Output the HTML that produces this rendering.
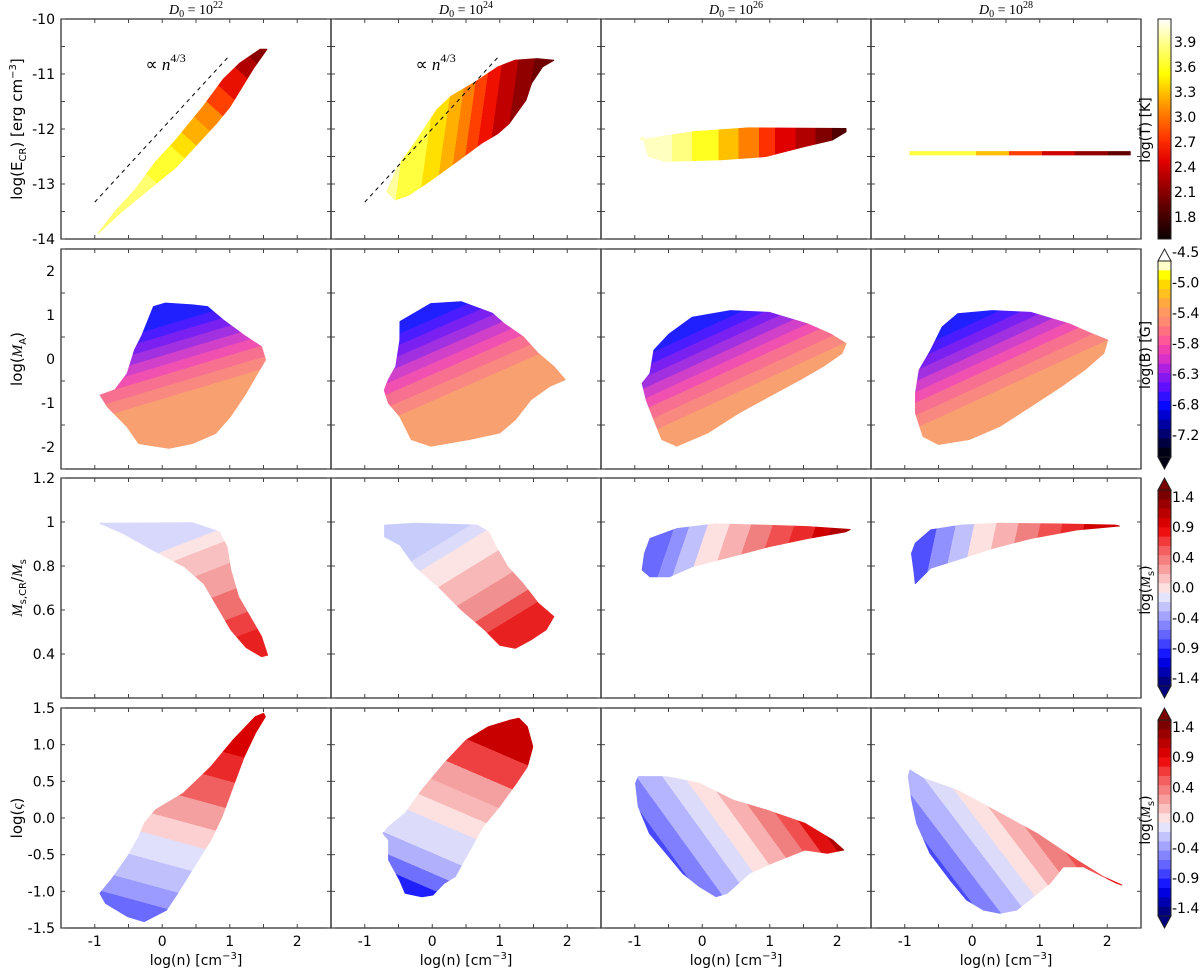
<!DOCTYPE html>
<html><head><meta charset="utf-8">
<style>
html,body{margin:0;padding:0;background:#fff;}
svg{display:block;font-family:"DejaVu Sans","Liberation Sans",sans-serif;}
</style></head>
<body>
<svg id="chart" width="1200" height="969" viewBox="0 0 1200 969" xmlns="http://www.w3.org/2000/svg">
<defs id="defs"></defs>
</svg>
<script>
// ---------- data (log n, y) outlines of each scatter cloud ----------
const outlineR1C1=[[-0.95,-13.9],[-0.6,-13.5],[-0.2,-13.1],[0.2,-12.7],[0.5,-12.3],[0.8,-11.9],[1.0,-11.6],[1.2,-11.2],[1.35,-10.9],[1.55,-10.55],[1.45,-10.55],[1.15,-10.8],[0.9,-11.1],[0.6,-11.6],[0.2,-12.2],[-0.1,-12.6],[-0.4,-13.1],[-0.7,-13.5]];
const outlineR1C2=[[-0.675,-13.14],[-0.51,-12.68],[-0.262,-12.26],[0.068,-11.65],[0.274,-11.41],[0.48,-11.26],[0.645,-11.14],[0.975,-10.87],[1.223,-10.75],[1.553,-10.72],[1.8,-10.75],[1.635,-10.87],[1.47,-11.17],[1.39,-11.47],[1.14,-11.9],[0.975,-12.08],[0.728,-12.26],[0.398,-12.56],[-0.015,-12.93],[-0.345,-13.2],[-0.551,-13.29]];
const outlineR1C3=[[-0.92,-12.2],[-0.136,-12.05],[0.69,-11.98],[2.13,-11.99],[2.13,-12.05],[1.93,-12.2],[1.51,-12.32],[0.94,-12.5],[0.28,-12.56],[-0.55,-12.59],[-0.8,-12.5],[-0.88,-12.14]];
const outlineR1C4=[[-0.92,-12.41],[2.34,-12.41],[2.34,-12.47],[-0.92,-12.47]];
const outlineR2C1=[[-0.13,1.19],[0.046,1.27],[0.445,1.23],[0.67,1.19],[0.9,0.89],[1.24,0.51],[1.47,0.28],[1.53,-0.02],[1.41,-0.33],[1.24,-0.78],[1.01,-1.31],[0.79,-1.69],[0.445,-1.92],[0.1,-2.03],[-0.35,-1.92],[-0.52,-1.54],[-0.81,-1.09],[-0.92,-0.82],[-0.7,-0.7],[-0.52,-0.33],[-0.41,0.21],[-0.3,0.54]];
const outlineR2C2=[[-0.478,0.85],[-0.02,1.26],[0.433,1.3],[0.89,1.04],[1.06,0.81],[1.345,0.51],[1.57,0.13],[1.8,-0.17],[1.97,-0.47],[1.74,-0.62],[1.46,-0.93],[1.23,-1.38],[1.0,-1.68],[0.55,-1.83],[-0.02,-1.98],[-0.31,-1.83],[-0.48,-1.31],[-0.65,-1.0],[-0.71,-0.71],[-0.65,-0.47],[-0.54,-0.17],[-0.48,0.43]];
const outlineR2C3=[[-0.774,-0.33],[-0.717,0.2],[-0.49,0.57],[-0.147,0.95],[0.42,1.1],[0.99,1.06],[1.56,0.8],[1.9,0.57],[2.13,0.35],[2.07,0.13],[1.79,-0.17],[1.45,-0.47],[0.99,-0.85],[0.54,-1.23],[0.08,-1.68],[-0.375,-1.98],[-0.6,-1.83],[-0.717,-1.38],[-0.83,-0.93],[-0.89,-0.55]];
const outlineR2C4=[[-0.786,-0.25],[-0.615,0.2],[-0.445,0.73],[-0.216,1.03],[0.297,1.1],[0.866,1.06],[1.436,0.8],[1.778,0.57],[2.006,0.43],[1.949,0.13],[1.664,-0.25],[1.322,-0.62],[0.866,-1.08],[0.41,-1.53],[-0.046,-1.83],[-0.5,-1.94],[-0.73,-1.76],[-0.84,-1.23],[-0.84,-0.78]];
const outlineR3C1=[[-0.923,0.994],[0.445,0.997],[0.844,0.956],[0.958,0.888],[1.015,0.782],[1.13,0.66],[1.3,0.57],[1.47,0.479],[1.56,0.395],[1.47,0.388],[1.24,0.43],[1.015,0.51],[0.787,0.63],[0.616,0.72],[0.33,0.797],[-0.125,0.87],[-0.58,0.948]];
const outlineR3C2=[[-0.706,0.986],[-0.25,0.994],[0.661,0.986],[0.832,0.956],[0.946,0.888],[1.117,0.797],[1.345,0.72],[1.573,0.63],[1.8,0.57],[1.687,0.51],[1.46,0.464],[1.23,0.426],[1.0,0.44],[0.775,0.51],[0.433,0.6],[0.09,0.706],[-0.25,0.797],[-0.478,0.895],[-0.706,0.933]];
const outlineR3C3=[[-0.774,0.925],[-0.375,0.97],[0.193,0.991],[0.876,0.986],[1.56,0.979],[2.19,0.966],[2.13,0.956],[1.56,0.925],[0.99,0.888],[0.42,0.842],[-0.147,0.797],[-0.49,0.751],[-0.774,0.751],[-0.89,0.782],[-0.855,0.857]];
const outlineR3C4=[[-0.843,0.903],[-0.615,0.964],[-0.16,0.986],[0.41,0.994],[1.32,0.991],[2.12,0.986],[2.18,0.982],[1.55,0.964],[0.866,0.925],[0.297,0.88],[-0.16,0.834],[-0.615,0.79],[-0.843,0.72],[-0.866,0.782],[-0.9,0.857]];
const outlineR4C1=[[1.502,1.427],[1.527,1.382],[1.379,1.155],[1.214,0.837],[1.05,0.428],[0.885,0.018],[0.721,-0.3],[0.474,-0.663],[0.228,-1.027],[0.063,-1.254],[-0.266,-1.413],[-0.513,-1.345],[-0.841,-1.163],[-0.924,-1.027],[-0.759,-0.845],[-0.513,-0.527],[-0.348,-0.254],[-0.266,-0.072],[-0.101,0.11],[0.31,0.337],[0.721,0.7],[1.05,1.064],[1.379,1.382]];
const outlineR4C2=[[-0.647,-0.3],[-0.73,-0.209],[-0.647,-0.118],[-0.401,0.064],[-0.154,0.382],[0.175,0.745],[0.504,1.064],[0.833,1.245],[1.162,1.336],[1.285,1.36],[1.408,1.245],[1.49,0.973],[1.408,0.7],[1.244,0.473],[0.997,0.155],[0.75,-0.118],[0.586,-0.391],[0.422,-0.663],[0.339,-0.8],[0.175,-0.891],[0.01,-1.05],[-0.154,-1.073],[-0.401,-1.027],[-0.483,-0.845],[-0.647,-0.573]];
const outlineR4C3=[[-0.947,0.564],[-0.536,0.564],[-0.042,0.473],[0.451,0.245],[0.945,0.11],[1.52,-0.072],[1.931,-0.3],[2.096,-0.436],[1.85,-0.482],[1.52,-0.436],[1.273,-0.527],[1.027,-0.618],[0.698,-0.754],[0.369,-1.027],[0.205,-1.073],[-0.042,-0.936],[-0.289,-0.754],[-0.536,-0.482],[-0.783,-0.209],[-0.947,0.155],[-0.988,0.473]];
const outlineR4C4=[[-0.922,0.655],[-0.725,0.541],[-0.23,0.382],[0.411,0.064],[0.955,-0.209],[1.547,-0.573],[1.942,-0.8],[2.214,-0.914],[2.14,-0.891],[1.645,-0.664],[1.349,-0.664],[1.152,-0.891],[0.904,-1.073],[0.659,-1.254],[0.411,-1.3],[0.164,-1.254],[-0.082,-1.118],[-0.33,-0.845],[-0.626,-0.482],[-0.823,-0.073],[-0.897,0.245],[-0.947,0.563]];
// colour-gradient axes (data coords: start, end)
const gradAxis=[
 [[[-0.9,-13.9],[1.55,-10.55]],[[-0.7,-11.6],[1.6,-12.0]],[[-0.9,-12.3],[2.1,-12.3]],[[-0.92,-12.44],[2.34,-12.44]]],
 [[[0.3,1.15],[0.7,-0.9]],[[0.0,1.2],[0.6,-0.9]],[[0.2,1.1],[0.8,-0.9]],[[0.0,1.1],[0.6,-0.9]]],
 [[[0.7,1.0],[1.4,0.45]],[[0.2,1.0],[1.2,0.5]],[[-0.6,1.0],[1.8,0.75]],[[-0.8,0.97],[1.8,0.8]]],
 [[[0.7,1.3],[-0.1,-1.4]],[[1.0,1.3],[-0.1,-1.05]],[[-0.7,-0.6],[1.4,0.8]],[[-0.7,-0.7],[1.3,0.7]]]
];
// dashed n^{4/3} guide lines
const guideX=[-1.0,0.97];
const guideY=[-13.33,-10.7];
// tick labels
const xTickVals=[-1,0,1,2];
const yTickVals=[[-10,-11,-12,-13,-14],[2,1,0,-1,-2],[1.2,1.0,0.8,0.6,0.4],[1.5,1.0,0.5,0.0,-0.5,-1.0,-1.5]];
const yTickText=[["-10","-11","-12","-13","-14"],["2","1","0","-1","-2"],["1.2","1","0.8","0.6","0.4"],["1.5","1.0","0.5","0.0","-0.5","-1.0","-1.5"]];
const titlesExp=["22","24","26","28"];
const cbLabelsT=["3.9","3.6","3.3","3.0","2.7","2.4","2.1","1.8"];
const cbLabelsB=["-4.5","-5.0","-5.4","-5.8","-6.3","-6.8","-7.2"];
const cbLabelsM=["1.4","0.9","0.4","0.0","-0.4","-0.9","-1.4"];

// ---------- styling ----------
const stopsSet=[
 [[[0,'#ffff70'],[0.3,'#ffff30'],[0.45,'#ffe000'],[0.52,'#ffb000'],[0.6,'#ff8a00'],[0.68,'#ff4000'],[0.76,'#e81000'],[0.86,'#b00000'],[0.93,'#8a0000']],
  [[0,'#ffffa0'],[0.15,'#ffff40'],[0.3,'#ffe000'],[0.4,'#ffb000'],[0.48,'#ff8000'],[0.55,'#ff4000'],[0.62,'#f01000'],[0.7,'#c00000'],[0.8,'#900000'],[0.9,'#700000']],
  [[0,'#ffffc0'],[0.15,'#ffff80'],[0.25,'#ffff20'],[0.38,'#ffc000'],[0.48,'#ff8000'],[0.58,'#ff3000'],[0.66,'#e00000'],[0.76,'#b00000'],[0.86,'#800000'],[0.94,'#500000']],
  [[0,'#ffff40'],[0.3,'#ffc000'],[0.45,'#ff4000'],[0.6,'#d00000'],[0.75,'#900000'],[0.9,'#600000']]],
 null,null,null
];
const stopsB=[[0,'#2020ff'],[0.12,'#4a1cff'],[0.22,'#7a20f0'],[0.32,'#a030e0'],[0.42,'#d040c8'],[0.52,'#f050b0'],[0.62,'#f87090'],[0.74,'#f88880'],[0.86,'#f8a070']];
stopsSet[1]=[stopsB,stopsB,stopsB,stopsB];
stopsSet[2]=[
 [[0,'#d8d8fc'],[0.08,'#fde4e4'],[0.18,'#f8c0c0'],[0.35,'#f4a0a0'],[0.55,'#f07070'],[0.75,'#ee4040'],[0.9,'#e82020']],
 [[0,'#c8ccfa'],[0.12,'#dcdcfa'],[0.22,'#fde4e4'],[0.4,'#f8b8b8'],[0.6,'#f09090'],[0.78,'#ee5050'],[0.9,'#e82020']],
 [[0,'#6a6aff'],[0.08,'#9090ff'],[0.16,'#c0c0fc'],[0.26,'#fde0e0'],[0.38,'#f8b0b0'],[0.5,'#f08080'],[0.62,'#f05050'],[0.74,'#ea2a2a'],[0.86,'#d00000'],[0.95,'#b00000']],
 [[0,'#5050ff'],[0.1,'#9090ff'],[0.2,'#c0c0fc'],[0.3,'#fde0e0'],[0.42,'#f8b0b0'],[0.54,'#f08080'],[0.66,'#f05050'],[0.78,'#ea2a2a'],[0.9,'#d00000']]
];
stopsSet[3]=[
 [[0,'#d80000'],[0.12,'#ea2a2a'],[0.25,'#f06060'],[0.38,'#f4a0a0'],[0.5,'#fcd0d0'],[0.6,'#e0e0fc'],[0.72,'#c0c0fc'],[0.84,'#9a9aff'],[0.93,'#6a6aff']],
 [[0,'#c80000'],[0.15,'#ee4040'],[0.3,'#f4a0a0'],[0.42,'#f8b8b8'],[0.52,'#fde0e0'],[0.62,'#dcdcfa'],[0.78,'#b0b0fc'],[0.88,'#7070ff'],[0.96,'#2020ff']],
 [[0,'#4848ff'],[0.1,'#8080ff'],[0.2,'#b4b4ff'],[0.32,'#dcdcfa'],[0.42,'#fde0e0'],[0.52,'#f8b0b0'],[0.62,'#f08080'],[0.72,'#f05050'],[0.8,'#e01010'],[0.88,'#b00000']],
 [[0,'#4848ff'],[0.1,'#8080ff'],[0.2,'#b4b4ff'],[0.32,'#dcdcfa'],[0.42,'#fde0e0'],[0.52,'#f8b0b0'],[0.62,'#f08080'],[0.72,'#f05050'],[0.82,'#e81010'],[0.92,'#c00000']]
];
const cbColorsB=['#ffffc8','#ffff00','#ffd800','#ffc020','#ffa840','#ff9860','#ff8870','#ff7080','#ff5898','#f040b0','#d830c8','#b020e0','#8818f0','#6010ff','#3010ff','#0808ff','#0000d0','#0000a0','#000070','#000040','#000014'];
const cbColorsM=['#7a0000','#9a0000','#bb0000','#d80000','#ee1010','#f23a3a','#f46060','#f68080','#f8a0a0','#fbc0c0','#fde0e0','#e4e4fc','#c4c4fc','#a4a4ff','#8484ff','#6464ff','#4040ff','#1818ff','#0000e0','#0000b0','#000080'];

const NS='http://www.w3.org/2000/svg';
const svg=document.getElementById('chart');
const defs=document.getElementById('defs');
const colL=61,colW=270,rowH=220;
const rowTop=[19,249,478,708];
const xMin=-1.5,xMax=2.5;
const yRange=[[-14,-10],[-2.5,2.5],[0.2,1.2],[-1.5,1.5]];
function X(c,v){return colL+colW*c+(v-xMin)/(xMax-xMin)*colW;}
function Y(r,v){const a=yRange[r][0],b=yRange[r][1];return rowTop[r]+rowH-(v-a)/(b-a)*rowH;}
function el(tag,attrs,parent){const e=document.createElementNS(NS,tag);for(const k in attrs)e.setAttribute(k,attrs[k]);(parent||svg).appendChild(e);return e;}

const outlines=[[outlineR1C1,outlineR1C2,outlineR1C3,outlineR1C4],[outlineR2C1,outlineR2C2,outlineR2C3,outlineR2C4],[outlineR3C1,outlineR3C2,outlineR3C3,outlineR3C4],[outlineR4C1,outlineR4C2,outlineR4C3,outlineR4C4]];
const rowNames=['ecr','mach-alfven','mach-ratio','zeta'];

for(let r=0;r<4;r++){
 for(let c=0;c<4;c++){
  const g=el('g',{});
  
  
  const ax=gradAxis[r][c];
  const gid='g'+r+c;
  const lg=el('linearGradient',{id:gid,gradientUnits:'userSpaceOnUse',x1:X(c,ax[0][0]),y1:Y(r,ax[0][1]),x2:X(c,ax[1][0]),y2:Y(r,ax[1][1])},defs);
  const st=stopsSet[r][c];
  for(let i=0;i<st.length;i++){
   const end=i<st.length-1?st[i+1][0]:1;
   el('stop',{offset:st[i][0],'stop-color':st[i][1]},lg);
   el('stop',{offset:end,'stop-color':st[i][1]},lg);
  }
  const pts=outlines[r][c].map(p=>X(c,p[0]).toFixed(1)+','+Y(r,p[1]).toFixed(1)).join(' ');
  const poly=el('polygon',{points:pts,fill:'url(#'+gid+')',stroke:'url(#'+gid+')','stroke-width':'1','stroke-linejoin':'round'},g);
  
  
  const fr=el('rect',{x:X(c,xMin),y:rowTop[r],width:colW,height:rowH,fill:'none',stroke:'#222','stroke-width':'1.2'},g);
  
  
  for(let v=-1;v<=2.01;v+=0.5){
   const x=X(c,v);
   el('line',{x1:x,x2:x,y1:rowTop[r],y2:rowTop[r]+4,stroke:'#444','stroke-width':'1'},g);
   el('line',{x1:x,x2:x,y1:rowTop[r]+rowH,y2:rowTop[r]+rowH-4,stroke:'#444','stroke-width':'1'},g);
  }
  const tv=yTickVals[r];
  const step=Math.abs(tv[1]-tv[0])/(r==0?2:1);
  for(let v=yRange[r][0];v<=yRange[r][1]+1e-6;v+=step){
   const y=Y(r,v);
   el('line',{x1:X(c,xMin),x2:X(c,xMin)+4,y1:y,y2:y,stroke:'#444','stroke-width':'1'},g);
   el('line',{x1:X(c,xMax),x2:X(c,xMax)-4,y1:y,y2:y,stroke:'#444','stroke-width':'1'},g);
  }
  if(r==3){
   for(let i=0;i<xTickVals.length;i++){
    const t=el('text',{x:X(c,xTickVals[i]),y:946,'text-anchor':'middle','font-size':'14',fill:'#000'},g);
    t.textContent=String(xTickVals[i]);
    
    
   }
   const xl=el('text',{x:X(c,0.5),y:965,'text-anchor':'middle','font-size':'14',fill:'#000'},g);
   xl.innerHTML='log(n) [cm<tspan dy="-6" font-size="10">−3</tspan><tspan dy="6">]</tspan>';
   
   
  }
  if(c==0){
   for(let i=0;i<tv.length;i++){
    const t=el('text',{x:55,y:Y(r,tv[i])+5,'text-anchor':'end','font-size':'14',fill:'#000'},g);
    t.textContent=yTickText[r][i];
    
    
   }
  }
  if(r==0){
   const tt=el('text',{x:X(c,0.5),y:14,'text-anchor':'middle','font-size':'14','font-family':'"Liberation Serif",serif',fill:'#000'},g);
   tt.innerHTML='<tspan font-style="italic">D</tspan><tspan dy="3" font-size="10">0</tspan><tspan dy="-3"> = 10</tspan><tspan dy="-6" font-size="10">'+titlesExp[c]+'</tspan>';
   
   
  }
 }
}
for(let c=0;c<2;c++){
 const l=el('line',{x1:X(c,guideX[0]),y1:Y(0,guideY[0]),x2:X(c,guideX[1]),y2:Y(0,guideY[1]),stroke:'#000','stroke-width':'1','stroke-dasharray':'4,4'});
 
 
 const t=el('text',{x:X(c,0.05),y:Y(0,-10.93),'text-anchor':'middle','font-size':'17','font-family':'"Liberation Serif",serif',fill:'#000'});
 t.innerHTML='∝ <tspan font-style="italic">n</tspan><tspan dy="-8" font-size="12">4/3</tspan>';
 
 
}
const yTitles=['log(E<tspan dy="4" font-size="10">CR</tspan><tspan dy="-4">) [erg cm</tspan><tspan dy="-6" font-size="10">−3</tspan><tspan dy="6">]</tspan>',
 'log(<tspan font-family="Liberation Serif,serif" font-style="italic">M</tspan><tspan dy="4" font-size="10">A</tspan><tspan dy="-4">)</tspan>',
 '<tspan font-family="Liberation Serif,serif" font-style="italic">M</tspan><tspan dy="4" font-size="10">s,CR</tspan><tspan dy="-4">/</tspan><tspan font-family="Liberation Serif,serif" font-style="italic">M</tspan><tspan dy="4" font-size="10">s</tspan>',
 'log(<tspan font-family="Liberation Serif,serif" font-style="italic">ς</tspan>)'];
for(let r=0;r<4;r++){
 const cy=rowTop[r]+rowH/2, cx=22;
 const t=el('text',{x:cx,y:cy,'text-anchor':'middle','font-size':'15',fill:'#000',transform:'rotate(-90 '+cx+' '+cy+')'});
 t.innerHTML=yTitles[r];
 
 
}
const cbX=1158,cbW=13;
const hg=el('linearGradient',{id:'hot',x1:0,y1:1,x2:0,y2:0},defs);
[[0,'#0a0000'],[0.15,'#600000'],[0.35,'#e00000'],[0.45,'#ff3000'],[0.6,'#ff9000'],[0.75,'#ffff00'],[0.88,'#ffff80'],[1,'#ffffff']].forEach(s=>el('stop',{offset:s[0],'stop-color':s[1]},hg));
const cb1=el('rect',{x:cbX,y:rowTop[0],width:cbW,height:rowH,fill:'url(#hot)',stroke:'#222','stroke-width':'1'});


for(let i=0;i<cbLabelsT.length;i++){
 const y=42+i*25;
 const t=el('text',{x:1174,y:y+5,'font-size':'14',fill:'#000'});
 t.textContent=cbLabelsT[i];
 
 
}
function discreteBar(r,colors,name,topArrow){
 const top=rowTop[r],bot=top+rowH,tri=12;
 const y0=top+tri,y1=bot-tri,h=(y1-y0)/colors.length;
 const g=el('g',{});
 
 
 for(let i=0;i<colors.length;i++){
  el('rect',{x:cbX,y:y0+i*h,width:cbW,height:h+0.5,fill:colors[i]},g);
 }
 el('polygon',{points:cbX+','+y0+' '+(cbX+cbW)+','+y0+' '+(cbX+cbW/2)+','+top,fill:topArrow,stroke:'#222','stroke-width':'1'},g);
 el('polygon',{points:cbX+','+y1+' '+(cbX+cbW)+','+y1+' '+(cbX+cbW/2)+','+bot,fill:colors[colors.length-1],stroke:'#222','stroke-width':'1'},g);
 el('rect',{x:cbX,y:y0,width:cbW,height:y1-y0,fill:'none',stroke:'#222','stroke-width':'1'},g);
}
discreteBar(1,cbColorsB,'colorbar-bfield','#ffffff');
for(let i=0;i<cbLabelsB.length;i++){
 const t=el('text',{x:1172,y:252+i*30.5+5,'font-size':'14',fill:'#000'});
 t.textContent=cbLabelsB[i];
 
 
}
for(let r=2;r<4;r++){
 discreteBar(r,cbColorsM,'colorbar-mach-sonic',cbColorsM[0]);
 for(let i=0;i<cbLabelsM.length;i++){
  const t=el('text',{x:1172,y:rowTop[r]+19+i*30.2+5,'font-size':'14',fill:'#000'});
  t.textContent=cbLabelsM[i];
  
  
 }
}
const cbTitles=['log(T) [K]','log(B) [G]','log(<tspan font-family="Liberation Serif,serif" font-style="italic">M</tspan><tspan dy="4" font-size="10">s</tspan><tspan dy="-4">)</tspan>','log(<tspan font-family="Liberation Serif,serif" font-style="italic">M</tspan><tspan dy="4" font-size="10">s</tspan><tspan dy="-4">)</tspan>'];
const cbTitleY=[130,355,590,820];
for(let r=0;r<4;r++){
 const cx=1150,cy=cbTitleY[r];
 const t=el('text',{x:cx,y:cy,'text-anchor':'middle','font-size':'14',fill:'#000',transform:'rotate(-90 '+cx+' '+cy+')'});
 t.innerHTML=cbTitles[r];
 
 
}
</script>
</body></html>
